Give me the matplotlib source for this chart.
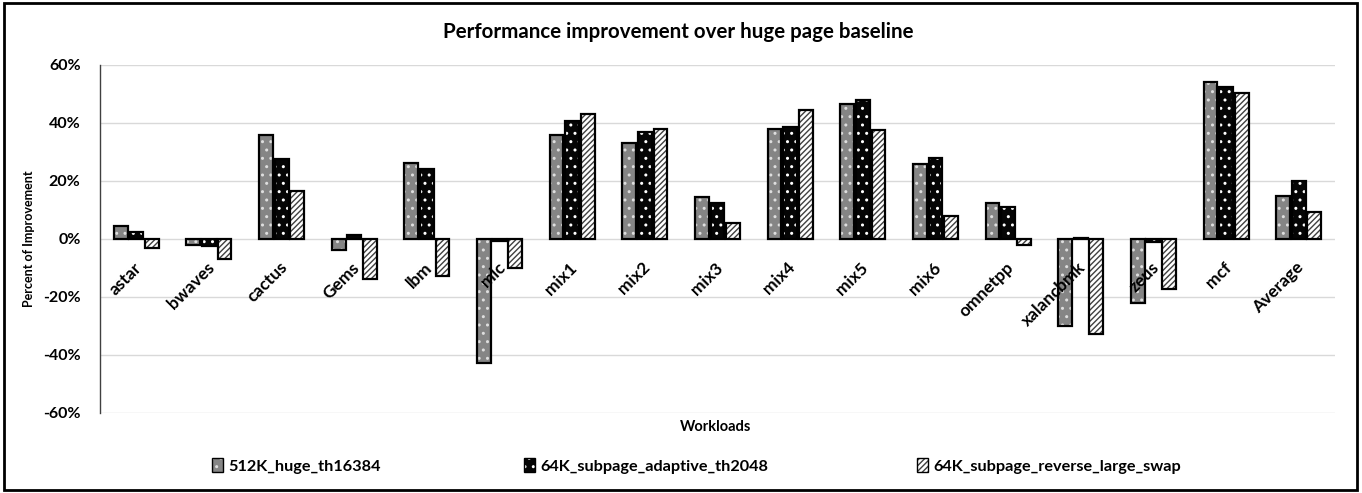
import matplotlib
matplotlib.use("Agg")
import matplotlib.pyplot as plt
import numpy as np
from matplotlib.patches import Rectangle, Patch
from matplotlib.ticker import FuncFormatter

plt.rcParams['font.family'] = ['Lato', 'DejaVu Sans']
plt.rcParams['hatch.linewidth'] = 1.0

categories = ["astar", "bwaves", "cactus", "Gems", "lbm", "mlc", "mix1", "mix2", "mix3",
              "mix4", "mix5", "mix6", "omnetpp", "xalancbmk", "zeus", "mcf", "Average"]
series_names = ["512K_huge_th16384", "64K_subpage_adaptive_th2048", "64K_subpage_reverse_large_swap"]
huge_th16384 = [4.6, -2.0, 36.0, -3.9, 26.1, -42.9, 36.0, 33.1, 14.5, 38.1, 46.7, 25.7, 12.5, -30.0, -22.2, 54.2, 14.8]
adaptive_th2048 = [2.4, -2.3, 27.7, 1.4, 24.1, -0.8, 40.6, 36.9, 12.3, 38.6, 47.8, 28.0, 11.2, 0.5, -0.9, 52.5, 20.0]
reverse_large_swap = [-3.1, -6.8, 16.7, -13.8, -12.7, -10.1, 43.0, 37.9, 5.4, 44.5, 37.6, 7.9, -2.0, -32.7, -17.2, 50.3, 9.3]
yticks = [-60, -40, -20, 0, 20, 40, 60]

fig = plt.figure(figsize=(13.62, 4.93), dpi=100)
ax = fig.add_axes([100/1362, 1-413/493, 1235/1362, 348/493])

x = np.arange(len(categories))
w = 0.19
offs = [-0.215, 0, 0.215]
styles = [
    dict(face='#858585', hatch='..', hcol='#dedede'),
    dict(face='#050505', hatch='..', hcol='#ffffff'),
    dict(face='#ffffff', hatch='//////', hcol='#404040'),
]
data = [huge_th16384, adaptive_th2048, reverse_large_swap]
for vals, off, st in zip(data, offs, styles):
    ax.bar(x + off, vals, w, color=st['face'], edgecolor=st['hcol'], hatch=st['hatch'], linewidth=0, zorder=3)
    ax.bar(x + off, vals, w, fill=False, edgecolor='black', linewidth=1.6, zorder=4)

ax.set_xlim(-0.5, len(categories) - 0.5)
ax.set_ylim(-60, 60)
ax.set_yticks(yticks)
ax.yaxis.set_major_formatter(FuncFormatter(lambda v, p: f"{int(v)}%"))
for lab in ax.get_yticklabels():
    lab.set_fontweight('bold')
ax.tick_params(axis='y', length=0, labelsize=11.5, pad=14)
ax.tick_params(axis='x', length=0, labelbottom=False)
ax.grid(axis='y', color='#d9d9d9', linewidth=1.0, zorder=0)
ax.set_axisbelow(True)
for s in ['top', 'right', 'bottom']:
    ax.spines[s].set_visible(False)
ax.spines['left'].set_color('#404040')
ax.spines['left'].set_linewidth(1.0)

for xi, c in zip(x, categories):
    ax.text(xi - 0.04, -7.0, c, rotation=45, rotation_mode='anchor', ha='right', va='top',
            fontsize=12.5, fontweight='bold', zorder=5)

ax.set_ylabel("Percent of Improvement", fontsize=9, fontweight='bold', labelpad=6)
fig.text(716/1362, 1-427/493, "Workloads", ha='center', va='center', fontsize=10.5, fontweight='bold')
fig.text(678/1362, 1-32/493, "Performance improvement over huge page baseline", ha='center', va='center',
         fontsize=14.8, fontweight='bold')

leg_x = [212, 524, 917]
for name, st, lx in zip(series_names, styles, leg_x):
    h = Patch(facecolor=st['face'], edgecolor=st['hcol'], hatch=st['hatch'], linewidth=0)
    hb = Patch(fill=False, edgecolor='black', linewidth=1.0)
    lg = fig.legend([(h, hb)], [name], loc='center left', bbox_to_anchor=(lx/1362, 1-466/493),
                    frameon=False, fontsize=11.7, handlelength=0.7, handleheight=0.9, handletextpad=0.3,
                    borderaxespad=0, borderpad=0)
    for t in lg.get_texts():
        t.set_fontweight('bold')

fig.add_artist(Rectangle((4/1362, 3/493), 1353/1362, 487/493, transform=fig.transFigure,
                         fill=False, edgecolor='black', linewidth=2))

fig.savefig("out.png", dpi=100)
